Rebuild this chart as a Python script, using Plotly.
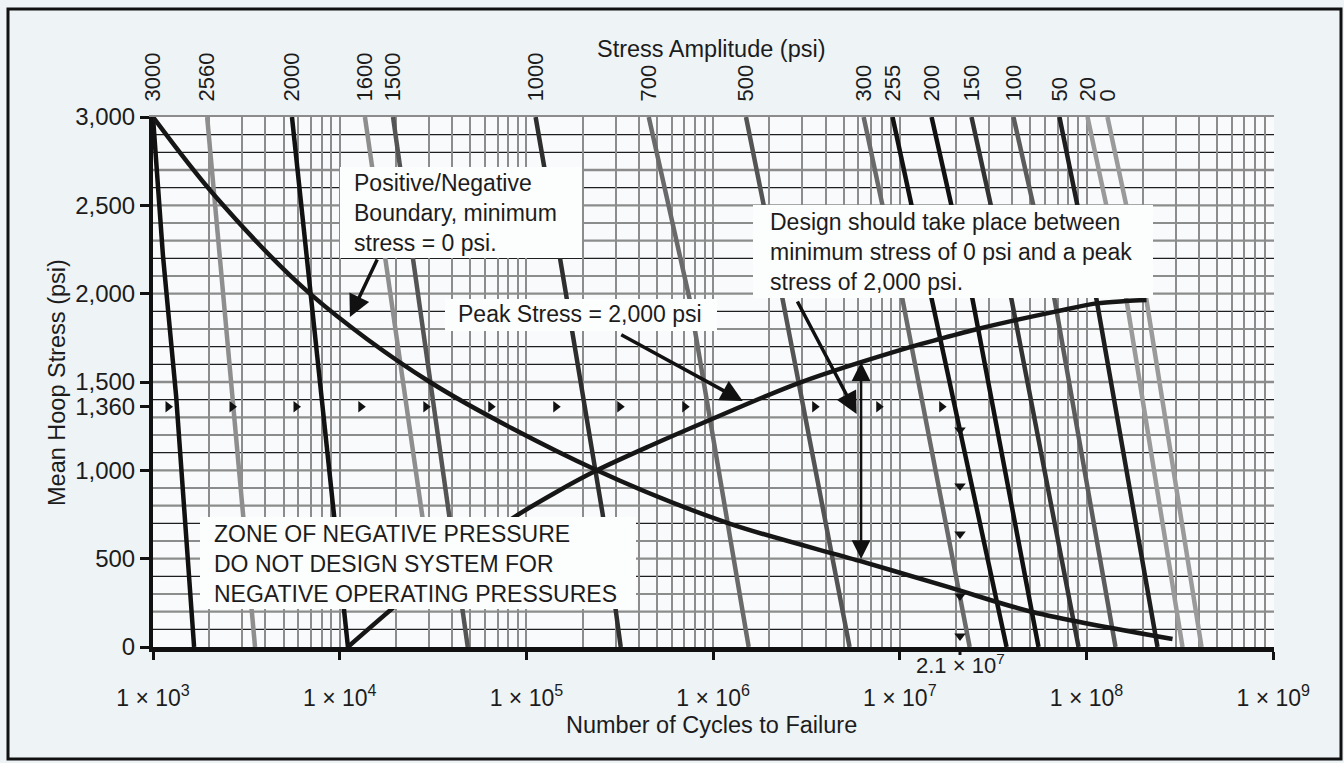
import numpy as np
import plotly.graph_objects as go

# ---------------- data ----------------
amp_labels = ["3000", "2560", "2000", "1600", "1500", "1000", "700", "500",
              "300", "255", "200", "150", "100", "50", "20", "0"]

# cycles to failure (N) and mean hoop stress (psi) along each stress-amplitude line
amp_N = [
    [1000, 1130, 1330, 1660],
    [1950, 3520],
    [5550, 11070],
    [13650, 31800],
    [19300, 48500],
    [112000, 151000, 256000, 320000],
    [452000, 750000, 1550000],
    [1500000, 2360000, 5380000],
    [6400000, 10350000, 23660000],
    [9140000, 37300000],
    [14790000, 24550000, 55300000],
    [24200000, 39700000, 90600000],
    [40600000, 67500000, 142900000],
    [71600000, 113200000, 239900000],
    [101200000, 163700000, 326600000],
    [129400000, 209400000, 413000000],
]
amp_S = [
    [3000, 2219, 1421, 0],
    [3000, 0],
    [3000, 0],
    [3000, 300],
    [3000, 0],
    [3000, 2207, 753, 0],
    [3000, 1964, 0],
    [3000, 1964, 0],
    [3000, 1964, 0],
    [3000, 0],
    [3000, 1964, 0],
    [3000, 1964, 0],
    [3000, 1964, 0],
    [3000, 1964, 0],
    [3000, 1964, 0],
    [3000, 1964, 0],
]

# positive/negative boundary (minimum stress = 0 psi)
boundary_N = [1000, 2121, 6927, 30400, 238200, 1212000,
              6092000, 18480000, 51400000, 288700000]
boundary_S = [3000, 2560, 2000, 1500, 1000, 700,
              487, 337, 198, 45]

# peak stress = 2,000 psi
peak_N = [11065, 30770, 41900, 84560, 141900, 238200, 457800, 959300, 2872000,
          11570000, 16540000, 26090000, 41690000, 69080000, 113100000,
          161800000, 209500000]
peak_S = [0, 400, 500, 730, 872, 1000, 1138, 1285, 1494,
          1700, 1745, 1800, 1850, 1900, 1945,
          1958, 1964]

# arrow markers along 1,360 psi and along 2.1 x 10^7 cycles
h_arrow_N = [1203, 2649, 5834, 12970, 28910, 64420, 143600, 316200,
             704700, 3500000, 7710000, 16750000]
h_arrow_S = 1360
v_arrow_S = [1228, 911, 640, 289, 62]
v_arrow_N = 2.1e7

# axis ticks
x_tick_N = [1e3, 1e4, 1e5, 1e6, 1e7, 1e8, 1e9]
x_tick_text = ["1 × 10<sup>%d</sup>" % k for k in range(3, 10)]
y_tick_S = [0, 500, 1000, 1360, 1500, 2000, 2500, 3000]
y_tick_text = ["0", "500", "1,000", "1,360", "1,500", "2,000", "2,500", "3,000"]

# call-out arrows (tail -> tip), in (N, psi)
callout_arrows = [
    ((16020, 2202), (11340, 1868)),
    ((316200, 1772), (1440000, 1392)),
    ((2800000, 1964), (5870000, 1319)),
]
design_range_N = 6200000
design_range_S = (490, 1612)

# ---------------- styling ----------------
FONT = "Liberation Sans, Arial, Helvetica, sans-serif"
TXT = "#1c1c1c"
amp_colors = ["#111111", "#8e8e8e", "#111111", "#8e8e8e", "#545454", "#2e2e2e",
              "#6a6a6a", "#545454", "#6a6a6a", "#111111", "#111111", "#333333",
              "#5c5c5c", "#1e1e1e", "#9a9a9a", "#9a9a9a"]
GRID = "#8c8c8c"

W, H = 1344, 763
L, R, T, B = 153, 1274, 117, 647


def px(xp):
    return (xp - L) / (R - L)


def py(yp):
    return (B - yp) / (B - T)


fig = go.Figure()

for lab, n, s, c in zip(amp_labels, amp_N, amp_S, amp_colors):
    fig.add_trace(go.Scatter(x=n, y=s, mode="lines", line=dict(color=c, width=4.5),
                             name=lab, hoverinfo="skip"))

fig.add_trace(go.Scatter(x=boundary_N, y=boundary_S, mode="lines",
                         line=dict(color="#161616", width=4.5, shape="spline", smoothing=0.9),
                         hoverinfo="skip"))
fig.add_trace(go.Scatter(x=peak_N, y=peak_S, mode="lines",
                         line=dict(color="#161616", width=4.5, shape="spline", smoothing=0.9),
                         hoverinfo="skip"))

fig.add_trace(go.Scatter(x=h_arrow_N, y=[h_arrow_S] * len(h_arrow_N), mode="markers",
                         marker=dict(symbol="triangle-right", size=10, color="#111111"),
                         hoverinfo="skip"))
fig.add_trace(go.Scatter(x=[v_arrow_N] * len(v_arrow_S), y=v_arrow_S, mode="markers",
                         marker=dict(symbol="triangle-down", size=10, color="#111111"),
                         hoverinfo="skip"))

# invisible trace for the top (stress amplitude) axis
top_N = [n[0] for n in amp_N]
fig.add_trace(go.Scatter(x=top_N, y=[3000] * len(top_N), xaxis="x2", mode="markers",
                         marker=dict(opacity=0), hoverinfo="skip"))

# horizontal grid lines every 100 psi (gray / black)
gray_levels = {2700, 2500, 2300, 2000, 1500, 1300, 1000, 800, 500, 200}
shapes = []
for s in range(100, 3000, 100):
    g = s in gray_levels
    shapes.append(dict(type="line", xref="paper", yref="y", x0=0, x1=1, y0=s, y1=s,
                       line=dict(color=GRID if g else "#1e1e1e", width=2.4 if g else 1.2),
                       layer="below"))

# white text boxes (cover the chart lines)
boxes = [
    (340, 167, 582, 258),
    (445, 299, 717, 331),
    (753, 205, 1153, 298),
    (200, 517, 636, 609),
]
for x0, y0, x1, y1 in boxes:
    shapes.append(dict(type="rect", xref="paper", yref="paper",
                       x0=px(x0), x1=px(x1), y0=py(y1), y1=py(y0),
                       fillcolor="#fcfdfd", line=dict(width=0), layer="above"))

# tick at 2.1 x 10^7
shapes.append(dict(type="line", xref="x", yref="paper", x0=v_arrow_N, x1=v_arrow_N,
                   y0=0, y1=-8 / (B - T), line=dict(color="#111111", width=3)))

# outer frame
shapes.append(dict(type="rect", xref="paper", yref="paper",
                   x0=px(8), x1=px(1341), y0=py(759), y1=py(9),
                   line=dict(color="#111111", width=3), fillcolor="rgba(0,0,0,0)",
                   layer="below"))

annotations = []
texts = [
    ("Positive/Negative<br>Boundary, minimum<br>stress = 0 psi.", 352, 212.5),
    ("Peak Stress = 2,000 psi", 456, 314),
    ("Design should take place between<br>minimum stress of 0 psi and a peak<br>stress of 2,000 psi.", 768, 252),
    ("ZONE OF NEGATIVE PRESSURE<br>DO NOT DESIGN SYSTEM FOR<br>NEGATIVE OPERATING PRESSURES", 212, 564),
]
for t, xl, yc in texts:
    annotations.append(dict(text=t, xref="paper", yref="paper", x=px(xl), y=py(yc),
                            xanchor="left", yanchor="middle", align="left", showarrow=False,
                            font=dict(family=FONT, size=23, color=TXT)))

for (tn, ts), (hn, hs) in callout_arrows:
    annotations.append(dict(text="", x=np.log10(hn), y=hs, ax=np.log10(tn), ay=ts,
                            xref="x", yref="y", axref="x", ayref="y", showarrow=True,
                            arrowhead=2, arrowsize=1.25, arrowwidth=3.5, arrowcolor="#111111"))
annotations.append(dict(text="", x=np.log10(design_range_N), y=design_range_S[1],
                        ax=np.log10(design_range_N), ay=design_range_S[0],
                        xref="x", yref="y", axref="x", ayref="y", showarrow=True,
                        arrowhead=2, startarrowhead=2, arrowside="end+start",
                        arrowsize=1.5, startarrowsize=1.5, arrowwidth=2.5, arrowcolor="#111111"))

annotations.append(dict(text="2.1 × 10<sup>7</sup>", xref="x", yref="paper",
                        x=np.log10(v_arrow_N), y=py(664), xanchor="center", yanchor="middle",
                        showarrow=False, font=dict(family=FONT, size=22, color=TXT)))

annotations.append(dict(text="Number of Cycles to Failure", xref="paper", yref="paper",
                        x=px(711), y=py(725), xanchor="center", yanchor="middle",
                        showarrow=False, font=dict(family=FONT, size=23.5, color=TXT)))
annotations.append(dict(text="Mean Hoop Stress (psi)", xref="paper", yref="paper",
                        x=px(57), y=py(383), xanchor="center", yanchor="middle", textangle=-90,
                        showarrow=False, font=dict(family=FONT, size=23.5, color=TXT)))
annotations.append(dict(text="Stress Amplitude (psi)", xref="paper", yref="paper",
                        x=px(711), y=py(49), xanchor="center", yanchor="middle",
                        showarrow=False, font=dict(family=FONT, size=23.5, color=TXT)))

minor_N = [m * 10 ** k for k in range(3, 9) for m in range(2, 10)]

fig.update_layout(
    width=W, height=H,
    margin=dict(l=L, r=W - R, t=T, b=H - B, pad=0),
    paper_bgcolor="#eef3f6",
    plot_bgcolor="#f8fafb",
    showlegend=False,
    font=dict(family=FONT, color=TXT),
    shapes=shapes,
    annotations=annotations,
    xaxis=dict(type="log", range=[3, 9.004], tickvals=x_tick_N, ticktext=x_tick_text,
               ticks="outside", ticklen=8, tickwidth=3, tickcolor="#111111",
               showline=True, linecolor="#111111", linewidth=5,
               showgrid=True, gridcolor=GRID, gridwidth=2.4, zeroline=False,
               minor=dict(tickvals=minor_N, showgrid=True, gridcolor=GRID, gridwidth=2.4, ticks=""),
               tickfont=dict(family=FONT, size=23, color=TXT), ticklabelstandoff=18,
               automargin=False, fixedrange=True),
    xaxis2=dict(type="log", range=[3, 9.004], overlaying="x", side="top", anchor="y",
                tickvals=top_N, ticktext=amp_labels, tickangle=-90, ticks="",
                showgrid=False, zeroline=False, showline=True, linecolor=GRID, linewidth=2.4,
                tickfont=dict(family=FONT, size=22, color=TXT), ticklabelstandoff=9,
                automargin=False, fixedrange=True),
    yaxis=dict(range=[0, 3000], tickvals=y_tick_S, ticktext=y_tick_text,
               ticks="outside", ticklen=9, tickwidth=3, tickcolor="#111111",
               showline=True, linecolor="#111111", linewidth=4,
               showgrid=False, zeroline=False,
               tickfont=dict(family=FONT, size=24, color=TXT),
               automargin=False, fixedrange=True),
)

fig.write_html("out.html", config={"displayModeBar": False},
               post_script="document.body.style.margin='0px';")
